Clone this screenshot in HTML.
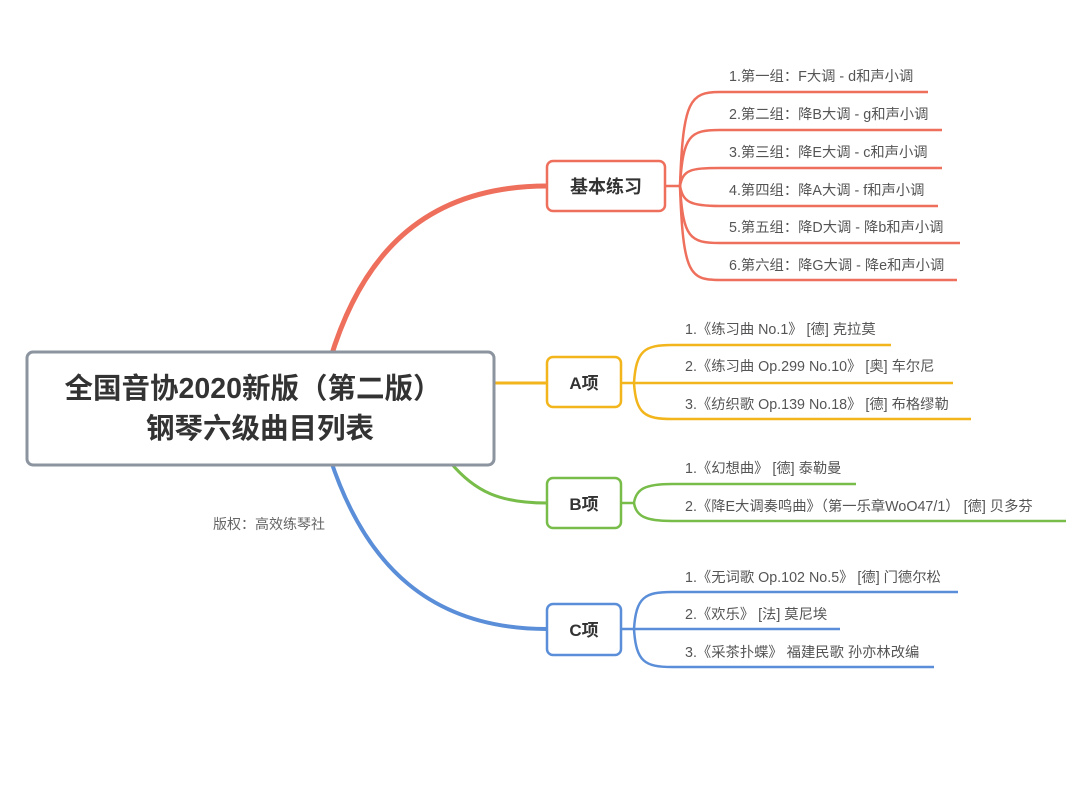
<!DOCTYPE html>
<html><head><meta charset="utf-8"><style>
html,body{margin:0;padding:0;background:#fff;}
svg{display:block;}
text{font-family:"Liberation Sans","Noto Sans CJK SC",sans-serif;}
.l{font-size:14.3px;fill:#555;}
</style></head><body>
<svg width="1080" height="788" viewBox="0 0 1080 788" xmlns="http://www.w3.org/2000/svg">
<rect width="1080" height="788" fill="#fff"/>
<path d="M330,360 C360,260 420,186 547,186" fill="none" stroke="#ef6f5d" stroke-width="5"/>
<path d="M494,383 C515,383 525,383 547,383" fill="none" stroke="#f2b51c" stroke-width="3"/>
<path d="M450,462 C475,492 500,503 547,503" fill="none" stroke="#78bd4a" stroke-width="3"/>
<path d="M330,458 C365,565 430,629 547,629" fill="none" stroke="#5b8ed8" stroke-width="4"/>
<rect x="27" y="352" width="467" height="113" rx="6" fill="#fff" stroke="#8b949f" stroke-width="3"/>
<text x="253" y="398" text-anchor="middle" font-size="28.5" font-weight="bold" fill="#333">全国音协2020新版（第二版）</text>
<text x="260" y="438" text-anchor="middle" font-size="28.5" font-weight="bold" fill="#333">钢琴六级曲目列表</text>
<text x="213" y="529" font-size="14" fill="#666">版权：高效练琴社</text>
<g fill="none" stroke="#ef6f5d" stroke-width="2.5">
<path d="M665,186 H680 C683,100 690,92 720,92 H928"/>
<path d="M680,186 C683,135 690,130 720,130 H942"/>
<path d="M680,186 C683,170 690,168 720,168 H942"/>
<path d="M680,186 C683,202 690,206 720,206 H938"/>
<path d="M680,186 C683,238 690,243 720,243 H960"/>
<path d="M680,186 C683,275 690,280 720,280 H957"/>
</g>
<rect x="547" y="161" width="118" height="50" rx="6" fill="#fff" stroke="#ef6f5d" stroke-width="2.5"/>
<text x="606" y="193" text-anchor="middle" font-size="18" font-weight="bold" fill="#333">基本练习</text>
<text class="l" x="729" y="81">1.第一组：F大调 - d和声小调</text>
<text class="l" x="729" y="119">2.第二组：降B大调 - g和声小调</text>
<text class="l" x="729" y="157">3.第三组：降E大调 - c和声小调</text>
<text class="l" x="729" y="195">4.第四组：降A大调 - f和声小调</text>
<text class="l" x="729" y="232">5.第五组：降D大调 - 降b和声小调</text>
<text class="l" x="729" y="270">6.第六组：降G大调 - 降e和声小调</text>
<g fill="none" stroke="#f2b51c" stroke-width="2.5">
<path d="M621,383 H634 C636,350 645,345 672,345 H891"/>
<path d="M634,383 H953"/>
<path d="M634,383 C636,414 645,419 672,419 H971"/>
</g>
<rect x="547" y="357" width="74" height="50" rx="6" fill="#fff" stroke="#f2b51c" stroke-width="2.5"/>
<text x="584" y="389" text-anchor="middle" font-size="17" font-weight="bold" fill="#333">A项</text>
<text class="l" x="685" y="334">1.《练习曲 No.1》 [德] 克拉莫</text>
<text class="l" x="685" y="371">2.《练习曲 Op.299 No.10》 [奥] 车尔尼</text>
<text class="l" x="685" y="409">3.《纺织歌  Op.139 No.18》 [德] 布格缪勒</text>
<g fill="none" stroke="#78bd4a" stroke-width="2.5">
<path d="M621,503 H634 C636,489 645,484 672,484 H856"/>
<path d="M634,503 C636,516 645,521 672,521 H1066"/>
</g>
<rect x="547" y="478" width="74" height="50" rx="6" fill="#fff" stroke="#78bd4a" stroke-width="2.5"/>
<text x="584" y="510" text-anchor="middle" font-size="17" font-weight="bold" fill="#333">B项</text>
<text class="l" x="685" y="473">1.《幻想曲》 [德] 泰勒曼</text>
<text class="l" x="685" y="511">2.《降E大调奏鸣曲》（第一乐章WoO47/1） [德] 贝多芬</text>
<g fill="none" stroke="#5b8ed8" stroke-width="2.5">
<path d="M621,629 H634 C636,597 645,592 672,592 H958"/>
<path d="M634,629 H840"/>
<path d="M634,629 C636,662 645,667 672,667 H934"/>
</g>
<rect x="547" y="604" width="74" height="51" rx="6" fill="#fff" stroke="#5b8ed8" stroke-width="2.5"/>
<text x="584" y="636" text-anchor="middle" font-size="17" font-weight="bold" fill="#333">C项</text>
<text class="l" x="685" y="582">1.《无词歌 Op.102 No.5》 [德] 门德尔松</text>
<text class="l" x="685" y="619">2.《欢乐》 [法] 莫尼埃</text>
<text class="l" x="685" y="657">3.《采茶扑蝶》 福建民歌 孙亦林改编</text>
</svg>
</body></html>
